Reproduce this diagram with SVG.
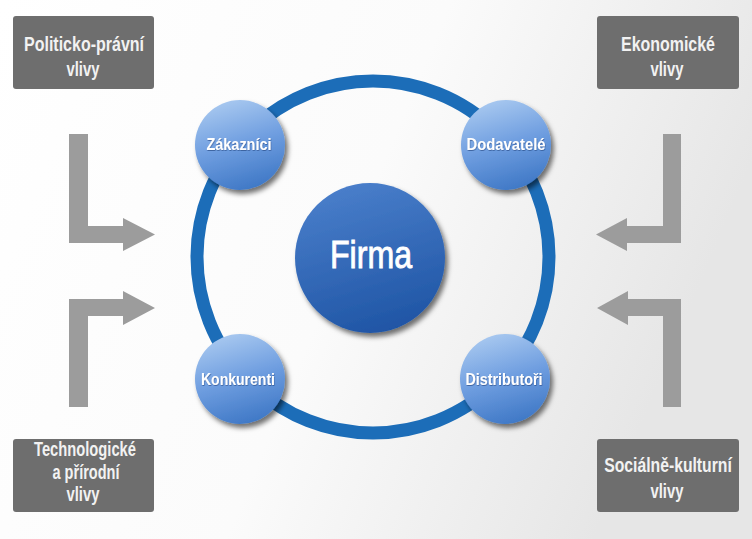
<svg xmlns="http://www.w3.org/2000/svg" width="752" height="539" viewBox="0 0 752 539">
<defs>
<linearGradient id="bg" x1="0" y1="0" x2="1" y2="0.3">
<stop offset="0" stop-color="#ffffff"/>
<stop offset="0.55" stop-color="#fbfbfb"/>
<stop offset="1" stop-color="#e6e6e6"/>
</linearGradient>
<linearGradient id="small" x1="0.3" y1="0" x2="0.6" y2="1">
<stop offset="0" stop-color="#a9c9f0"/>
<stop offset="0.5" stop-color="#6f9ee0"/>
<stop offset="1" stop-color="#3f78c6"/>
</linearGradient>
<linearGradient id="big" x1="0.3" y1="0" x2="0.6" y2="1">
<stop offset="0" stop-color="#4a7fcb"/>
<stop offset="1" stop-color="#1f55a5"/>
</linearGradient>
<filter id="sh" x="-20%" y="-20%" width="150%" height="150%">
<feDropShadow dx="3" dy="4" stdDeviation="2.5" flood-color="#000" flood-opacity="0.55"/>
</filter>
<filter id="tsh" x="-10%" y="-20%" width="120%" height="150%">
<feDropShadow dx="0.5" dy="1" stdDeviation="0.6" flood-color="#1a3f7a" flood-opacity="0.6"/>
</filter>
</defs>
<style>
.box{fill:#6e6e6e}
.arrow{fill:#9c9c9c}
.ring{fill:none;stroke:#1c6db8;stroke-width:13}
.bt{font-family:"Liberation Sans Narrow","Liberation Sans",Arial,sans-serif;font-weight:bold;font-size:21px;fill:#f2f2f2;text-anchor:middle}
.ct{font-family:"Liberation Sans Narrow","Liberation Sans",Arial,sans-serif;font-weight:bold;font-size:17px;fill:#ffffff;text-anchor:middle}
.ft{font-family:"Liberation Sans Narrow","Liberation Sans",Arial,sans-serif;font-size:39px;fill:#ffffff;stroke:#ffffff;stroke-width:0.9;text-anchor:middle}
</style>
<rect width="752" height="539" fill="url(#bg)"/>

<g id="connectors">
<circle class="ring" cx="373" cy="257" r="176"/>
<path class="arrow" d="M69,134 H88 V226 H123 V218 L155,234.5 L123,251 V243 H69 Z"/>
<path class="arrow" d="M663,134 H681 V243 H627 V251 L596,234.5 L627,218 V226 H663 Z"/>
<path class="arrow" d="M69,407 V299 H123 V291 L155,308 L123,325 V316 H88 V407 Z"/>
<path class="arrow" d="M681,407 V299 H628 V291 L597,308 L628,325 V316 H663 V407 Z"/>
</g>

<g id="politicko-pravni">
<rect class="box" x="13" y="16" width="141" height="73" rx="3"/>
<text class="bt" x="84" y="51" textLength="120" lengthAdjust="spacingAndGlyphs">Politicko-právní</text>
<text class="bt" x="83" y="76" textLength="33" lengthAdjust="spacingAndGlyphs">vlivy</text>
</g>
<g id="ekonomicke">
<rect class="box" x="597" y="16" width="142" height="73" rx="3"/>
<text class="bt" x="668" y="51" textLength="94" lengthAdjust="spacingAndGlyphs">Ekonomické</text>
<text class="bt" x="667" y="76" textLength="33" lengthAdjust="spacingAndGlyphs">vlivy</text>
</g>
<g id="technologicke">
<rect class="box" x="13" y="439" width="141" height="73" rx="3"/>
<text class="bt" x="85" y="456" textLength="102" lengthAdjust="spacingAndGlyphs">Technologické</text>
<text class="bt" x="86" y="479" textLength="67" lengthAdjust="spacingAndGlyphs">a přírodní</text>
<text class="bt" x="83" y="501" textLength="33" lengthAdjust="spacingAndGlyphs">vlivy</text>
</g>
<g id="socialne-kulturni">
<rect class="box" x="597" y="439" width="142" height="73" rx="3"/>
<text class="bt" transform="translate(668,472) scale(0.75,1)" x="0" y="0">Sociálně-kulturní</text>
<text class="bt" x="667" y="498" textLength="33" lengthAdjust="spacingAndGlyphs">vlivy</text>
</g>

<g id="zakaznici">
<circle cx="240" cy="145" r="45" fill="url(#small)" filter="url(#sh)"/>
<text class="ct" x="239" y="150" textLength="65" lengthAdjust="spacingAndGlyphs" filter="url(#tsh)">Zákazníci</text>
</g>
<g id="dodavatele">
<circle cx="506" cy="145" r="45" fill="url(#small)" filter="url(#sh)"/>
<text class="ct" x="506" y="150" textLength="79" lengthAdjust="spacingAndGlyphs" filter="url(#tsh)">Dodavatelé</text>
</g>
<g id="konkurenti">
<circle cx="240" cy="379" r="45" fill="url(#small)" filter="url(#sh)"/>
<text class="ct" x="238" y="385" textLength="74" lengthAdjust="spacingAndGlyphs" filter="url(#tsh)">Konkurenti</text>
</g>
<g id="distributori">
<circle cx="505" cy="379" r="45" fill="url(#small)" filter="url(#sh)"/>
<text class="ct" x="504" y="385" textLength="77" lengthAdjust="spacingAndGlyphs" filter="url(#tsh)">Distributoři</text>
</g>
<g id="firma">
<circle cx="370" cy="258" r="75" fill="url(#big)" filter="url(#sh)"/>
<text class="ft" x="371" y="268" textLength="82" lengthAdjust="spacingAndGlyphs">Firma</text>
</g>
</svg>
